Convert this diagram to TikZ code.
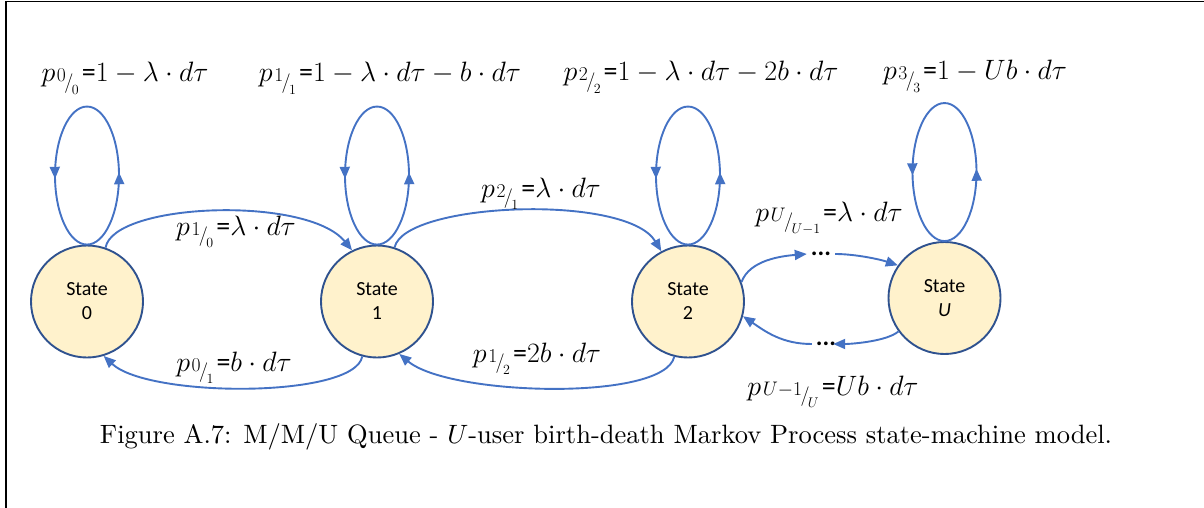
\RequirePackage{fix-cm}
\documentclass[tikz,border=0pt]{standalone}
\usepackage{fontspec}
\usepackage{graphicx}
\newfontfamily\calibri{Carlito}
\usetikzlibrary{arrows.meta,decorations.markings,calc}
\definecolor{linkblue}{HTML}{4472C4}
\definecolor{stfill}{HTML}{FFF2CC}
\definecolor{stdraw}{HTML}{2F528F}
\newcommand\pp[2]{p\mkern1mu{\scriptstyle #1}\mkern-1mu\raisebox{-0.55ex}{$\scriptstyle/$}\mkern-1mu\raisebox{-1.0ex}{$\scriptscriptstyle #2$}\mkern2mu}
\newcommand\eqs{\mbox{\calibri=}}
\newcommand\selfloop[1]{%
  \draw[loopline] (#1.north) .. controls +(17.7,0) and +(0,-38.1) .. ++(32,69)
    .. controls +(0,38.1) and +(17.7,0) .. ++(-32,69)
    .. controls +(-17.7,0) and +(0,38.1) .. ++(-32,-69)
    .. controls +(0,-38.1) and +(-17.7,0) .. ++(32,-69);}
\begin{document}
\begin{tikzpicture}[x=1pt,y=1pt,
  state/.style={circle, minimum size=112pt, inner sep=0pt, fill=stfill, draw=stdraw,
    line width=1.9pt, font=\calibri\fontsize{20}{24}\selectfont, align=center},
  link/.style={draw=linkblue, line width=1.9pt, -{Triangle[length=12pt,width=10pt]}},
  loopline/.style={draw=linkblue, line width=1.9pt, postaction={decorate},
    decoration={markings,
      mark=at position 0.26 with {\arrow{Triangle[length=12pt,width=10pt]}},
      mark=at position 0.76 with {\arrow{Triangle[length=12pt,width=10pt]}}}},
  lbl/.style={anchor=base, inner sep=0pt, font=\fontsize{28}{32}\selectfont},
  dotsn/.style={inner sep=0pt, font=\calibri\bfseries\fontsize{25}{30}\selectfont},
  frame/.style={draw=black, line width=1.2pt}]
\useasboundingbox (0,0) rectangle (1204,-508);
% frame
\coordinate (fa) at (6,-508);
\coordinate (fb) at (6,-1.5);
\coordinate (fc) at (1204,-1.5);
\draw[frame] (fa) -- (fb) -- (fc);
% states
\node[state] (s0) at (87,-301.5) {State\\0};
\node[state] (s1) at (377,-301.5) {State\\1};
\node[state] (s2) at (688,-301.5) {State\\2};
\node[state] (sU) at (944.5,-298) {State\\\textit{U}};
% self loops
\selfloop{s0}
\selfloop{s1}
\selfloop{s2}
\selfloop{sU}
% loop labels
\node[lbl] (l00) at (125,-82) {$\pp{0}{0}\eqs1-\lambda\cdot d\tau$};
\node[lbl] (l11) at (390,-82) {$\pp{1}{1}\eqs1-\lambda\cdot d\tau-b\cdot d\tau$};
\node[lbl] (l22) at (701,-81) {$\pp{2}{2}\eqs1-\lambda\cdot d\tau-2b\cdot d\tau$};
\node[lbl] (l33) at (975,-80) {$\pp{3}{3}\eqs1-Ub\cdot d\tau$};
% transitions 0<->1
\draw[link] (s0.71) .. controls +(8,45) and +(-45,55) .. (s1.116);
\draw[link] (s1.255) .. controls +(-8,-42) and +(45,-42) .. (s0.287);
\node[lbl] (l10) at (236,-235) {$\pp{1}{0}\eqs\lambda\cdot d\tau$};
\node[lbl] (l01) at (234,-371) {$\pp{0}{1}\eqs b\cdot d\tau$};
% transitions 1<->2
\draw[link] (s1.72) .. controls +(10,45) and +(-35,58) .. (s2.118);
\draw[link] (s2.256) .. controls +(-10,-45) and +(50,-42) .. (s1.293);
\node[lbl] (l21) at (541,-197) {$\pp{2}{1}\eqs\lambda\cdot d\tau$};
\node[lbl] (l12) at (537,-362) {$\pp{1}{2}\eqs 2b\cdot d\tau$};
% transitions 2<->U via dots
\node[dotsn] (dT) at (821,-254) {...};
\node[dotsn] (dB) at (826,-344) {...};
\draw[link] (s2.20) .. controls +(8,22) and +(-25,-2) .. ([xshift=-4pt]dT.west);
\draw[link] ([xshift=4pt]dT.east) .. controls +(20,0) and +(-18,6) .. (sU.145);
\draw[link] (sU.216) .. controls +(-12,-10) and +(18,0) .. ([xshift=-3pt]dB.east);
\draw[link] ([xshift=-4pt]dB.west) .. controls +(-30,0) and +(22,-15) .. (s2.-15);
\node[lbl] (lU) at (829,-221) {$\pp{U}{U-1}\eqs\lambda\cdot d\tau$};
\node[lbl] (lUm) at (833,-395) {$\pp{U-1}{U}\eqs Ub\cdot d\tau$};
% caption
\node[anchor=base, inner sep=0pt] (cap) at (606,-443) {\resizebox{1012pt}{!}{Figure A.7: M/M/U Queue - $U$-user birth-death Markov Process state-machine model.}};
\end{tikzpicture}
\end{document}
